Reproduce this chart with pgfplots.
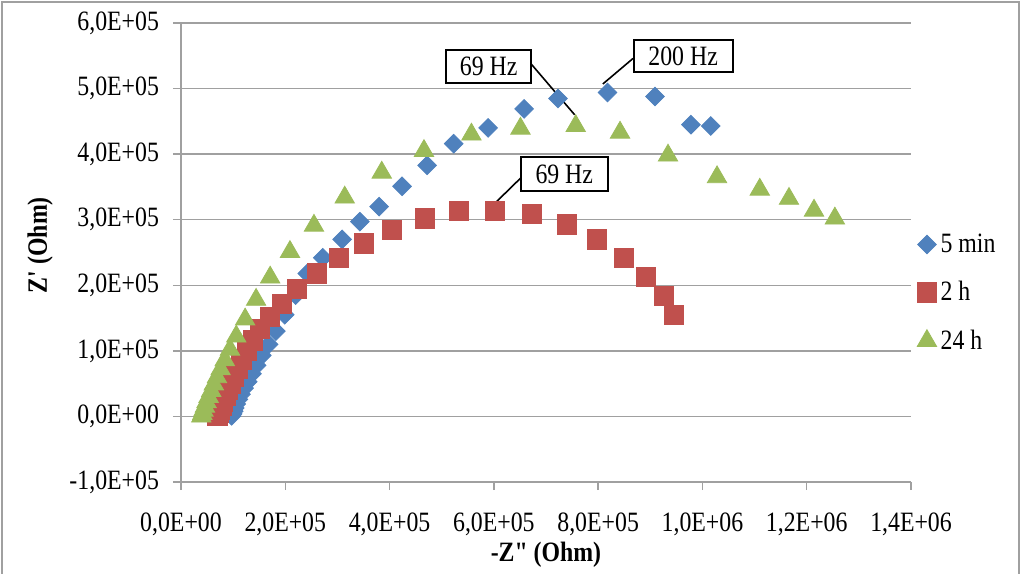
\documentclass[border=0pt]{standalone}
\usepackage{fontspec}
\setmainfont{Liberation Serif}[Ligatures=TeXOff, FakeStretch=0.85]
\usepackage{pgfplots}
\pgfplotsset{compat=1.18}
\usepackage{pgfplotstable}

\definecolor{serA}{HTML}{4F81BD}
\definecolor{serB}{HTML}{C0504D}
\definecolor{serC}{HTML}{9BBB59}
\definecolor{gridgray}{HTML}{A0A0A0}

% Nyquist data: -Z'' (Ohm) against Z' (Ohm)
\pgfplotstableread{
x y
1.016e6 4.43e5
9.78e5 4.45e5
9.09e5 4.88e5
8.18e5 4.94e5
7.23e5 4.85e5
6.58e5 4.69e5
5.89e5 4.40e5
5.23e5 4.16e5
4.72e5 3.83e5
4.24e5 3.51e5
3.80e5 3.20e5
3.43e5 2.97e5
3.09e5 2.70e5
2.72e5 2.42e5
2.42e5 2.18e5
2.20e5 1.85e5
1.99e5 1.55e5
1.82e5 1.30e5
1.68e5 1.10e5
1.55e5 0.93e5
1.45e5 0.78e5
1.36e5 0.65e5
1.28e5 0.53e5
1.21e5 0.43e5
1.15e5 0.34e5
1.10e5 0.26e5
1.06e5 0.19e5
1.03e5 0.13e5
1.01e5 0.08e5
0.99e5 0.04e5
0.97e5 0.01e5
}\fivemin

\pgfplotstableread{
x y
9.45e5 1.55e5
9.26e5 1.84e5
8.92e5 2.13e5
8.49e5 2.42e5
7.98e5 2.70e5
7.40e5 2.93e5
6.73e5 3.09e5
6.02e5 3.14e5
5.33e5 3.14e5
4.67e5 3.02e5
4.05e5 2.85e5
3.51e5 2.64e5
3.03e5 2.42e5
2.60e5 2.18e5
2.22e5 1.94e5
1.93e5 1.72e5
1.70e5 1.52e5
1.52e5 1.33e5
1.38e5 1.16e5
1.26e5 1.00e5
1.16e5 0.86e5
1.08e5 0.73e5
1.01e5 0.61e5
0.95e5 0.50e5
0.90e5 0.40e5
0.85e5 0.31e5
0.81e5 0.23e5
0.78e5 0.16e5
0.75e5 0.10e5
0.72e5 0.05e5
0.70e5 0.01e5
}\twoh

\pgfplotstableread{
x y
1.254e6 3.02e5
1.214e6 3.14e5
1.166e6 3.32e5
1.110e6 3.46e5
1.028e6 3.65e5
9.34e5 3.98e5
8.42e5 4.33e5
7.57e5 4.43e5
6.51e5 4.39e5
5.57e5 4.30e5
4.66e5 4.05e5
3.85e5 3.72e5
3.14e5 3.34e5
2.55e5 2.91e5
2.09e5 2.51e5
1.71e5 2.12e5
1.44e5 1.78e5
1.23e5 1.48e5
1.06e5 1.22e5
0.94e5 1.02e5
0.84e5 0.86e5
0.76e5 0.72e5
0.69e5 0.60e5
0.63e5 0.49e5
0.58e5 0.39e5
0.53e5 0.30e5
0.49e5 0.22e5
0.46e5 0.15e5
0.43e5 0.09e5
0.41e5 0.04e5
0.39e5 0.00
}\twentyfourh

\newcommand{\chartfont}{\fontsize{14}{16}\selectfont}

\begin{document}
\begin{tikzpicture}
\useasboundingbox (-90.5pt,-45.5pt) rectangle (420pt,241pt);
\draw[gridgray, line width=0.9pt] (-89.5pt,-46pt) -- (-89.5pt,240pt) -- (419pt,240pt) -- (419pt,-46pt);
\begin{axis}[
  at={(0,0)}, anchor=south west,
  scale only axis, width=365pt, height=229.5pt,
  xmin=0, xmax=1.4e6, ymin=-1e5, ymax=6e5,
  clip=false,
  scaled ticks=false,
  axis x line*=bottom, axis y line*=left,
  axis line style={gridgray, line width=0.75pt, -},
  xtick={0,200000,400000,600000,800000,1000000,1200000,1400000},
  xticklabels={{0,0E+00},{2,0E+05},{4,0E+05},{6,0E+05},{8,0E+05},{1,0E+06},{1,2E+06},{1,4E+06}},
  ytick={-100000,0,100000,200000,300000,400000,500000,600000},
  yticklabels={{-1,0E+05},{0,0E+00},{1,0E+05},{2,0E+05},{3,0E+05},{4,0E+05},{5,0E+05},{6,0E+05}},
  ymajorgrids,
  major grid style={gridgray, line width=0.75pt},
  tick align=outside, major tick length=4pt,
  tick style={gridgray, line width=0.75pt},
  ticklabel style={font=\chartfont, text=black},
  xticklabel style={yshift=-8pt},
  yticklabel style={xshift=-3.5pt},
  xlabel={\bfseries -Z" (Ohm)},
  ylabel={\bfseries Z' (Ohm)},
  label style={font=\chartfont},
  xlabel style={at={(axis description cs:0.5,-0.159)}, anchor=center},
  ylabel style={at={(axis description cs:-0.193,0.516)}, anchor=center, rotate=0},
  legend style={at={(axis description cs:1.008,0.412)}, anchor=west, draw=none, fill=none,
    font=\chartfont, row sep=9pt, inner sep=0pt},
  legend cell align=left,
  legend image code/.code={\draw[mark repeat=2,mark phase=2,#1] plot coordinates {(0pt,0pt)(8pt,0pt)(16pt,0pt)};},
]
\addplot[only marks, mark=square*, mark size=3.3pt, mark options={rotate=45, fill=serA, draw=serA}] table[x=x,y=y] {\fivemin};
\addlegendentry{5 min}
\addplot[only marks, mark=square*, mark size=4.8pt, mark options={fill=serB, draw=serB}] table[x=x,y=y] {\twoh};
\addlegendentry{2 h}
\addplot[only marks, mark=triangle*, mark size=5.6pt, mark options={fill=serC, draw=serC}] table[x=x,y=y] {\twentyfourh};
\addlegendentry{24 h}

% frequency callouts
\draw[black, line width=0.8pt] (axis cs:6.71e5,5.38e5) -- (axis cs:7.55e5,4.60e5);
\node[draw=black, fill=white, line width=1pt, minimum width=42.5pt, minimum height=16.5pt, inner sep=0pt, font=\chartfont] at (axis cs:5.90e5,5.34e5) {69 Hz};
\draw[black, line width=0.8pt] (axis cs:8.67e5,5.46e5) -- (axis cs:8.09e5,5.07e5);
\node[draw=black, fill=white, line width=1pt, minimum width=49.5pt, minimum height=16pt, inner sep=0pt, font=\chartfont] at (axis cs:9.63e5,5.49e5) {200 Hz};
\draw[black, line width=0.8pt] (axis cs:6.52e5,3.64e5) -- (axis cs:5.98e5,3.22e5);
\node[draw=black, fill=white, line width=1pt, minimum width=43.5pt, minimum height=17pt, inner sep=0pt, font=\chartfont] at (axis cs:7.35e5,3.69e5) {69 Hz};
\end{axis}
\end{tikzpicture}
\end{document}
